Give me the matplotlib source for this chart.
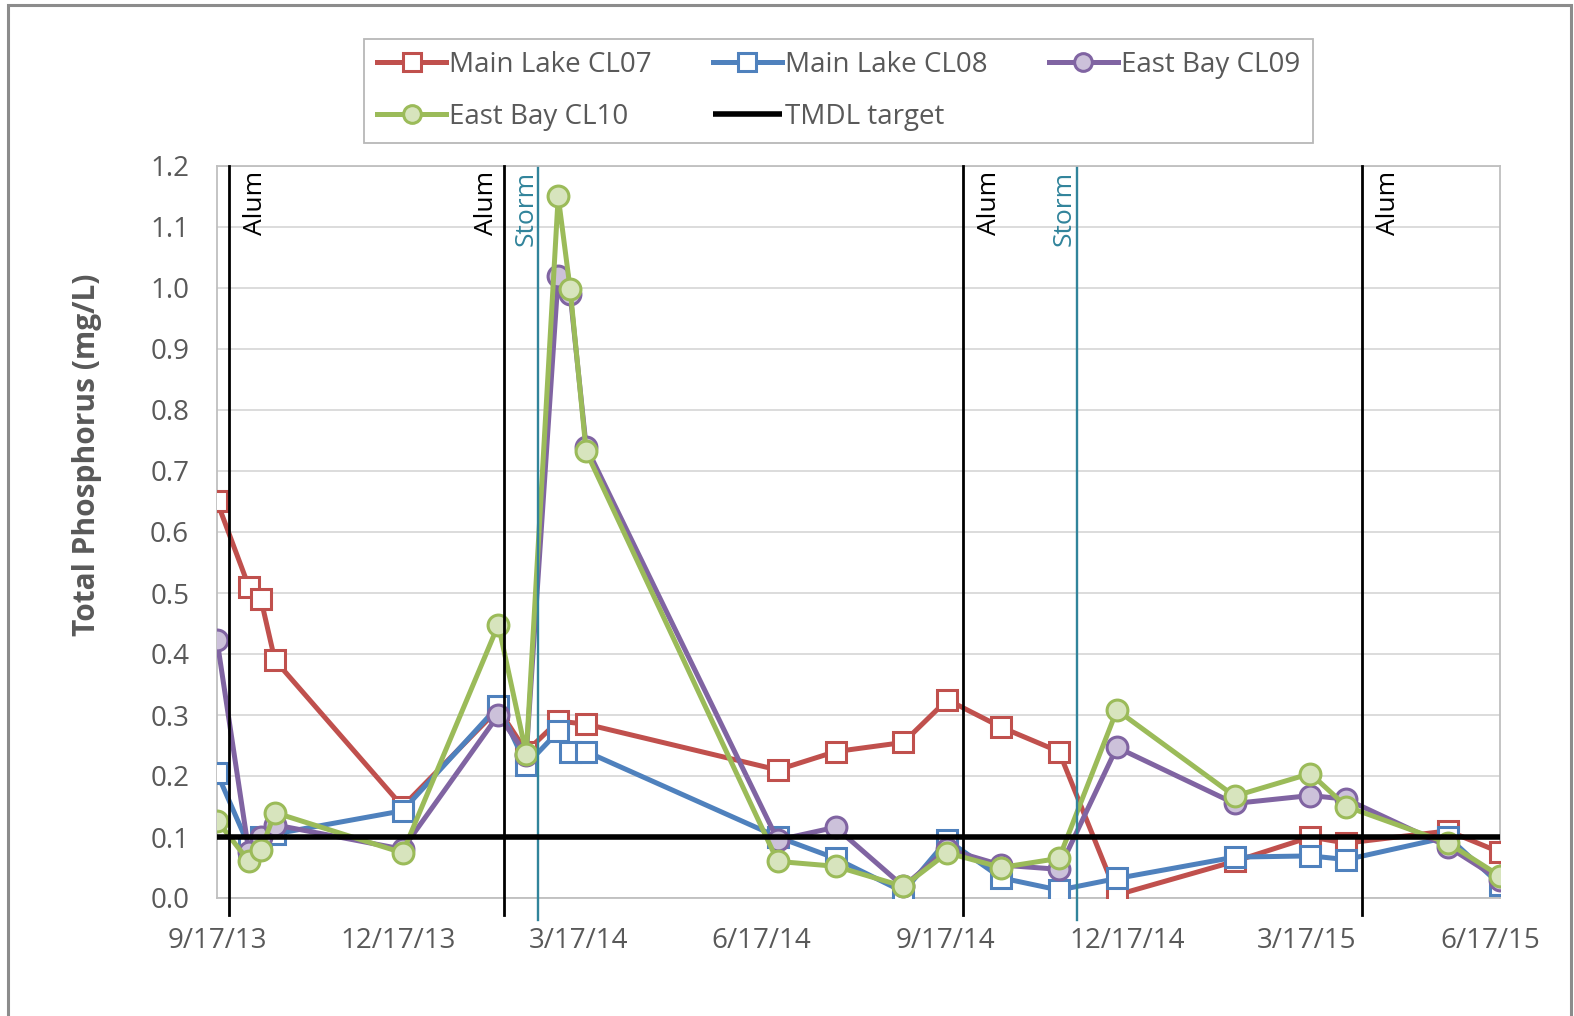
import matplotlib
matplotlib.use("Agg")
import matplotlib.pyplot as plt
import matplotlib.dates as mdates
import matplotlib.patches as mpatches
import matplotlib.transforms as mtrans
import pandas as pd

# ---------------- data ----------------
dates_cl07 = ["2013-09-17", "2013-10-03", "2013-10-09", "2013-10-16", "2013-12-19",
              "2014-02-05", "2014-02-19", "2014-03-07", "2014-03-21", "2014-06-25",
              "2014-07-24", "2014-08-27", "2014-09-18", "2014-10-15", "2014-11-13",
              "2014-12-12", "2015-02-09", "2015-03-19", "2015-04-06", "2015-05-27",
              "2015-06-22"]
cl07 = [0.65, 0.51, 0.49, 0.39, 0.15, 0.31, 0.24, 0.29, 0.285, 0.21,
        0.24, 0.255, 0.325, 0.28, 0.24, 0.005, 0.06, 0.10, 0.09, 0.11, 0.075]

dates_all = ["2013-09-17", "2013-10-03", "2013-10-09", "2013-10-16", "2013-12-19",
             "2014-02-05", "2014-02-19", "2014-03-07", "2014-03-13", "2014-03-21",
             "2014-06-25", "2014-07-24", "2014-08-27", "2014-09-18", "2014-10-15",
             "2014-11-13", "2014-12-12", "2015-02-09", "2015-03-19", "2015-04-06",
             "2015-05-27", "2015-06-22"]
cl08 = [0.205, 0.085, 0.10, 0.105, 0.143, 0.315, 0.218, 0.273, 0.24, 0.24,
        0.10, 0.065, 0.01, 0.095, 0.033, 0.013, 0.032, 0.067, 0.069, 0.063,
        0.10, 0.022]
cl09 = [0.423, 0.075, 0.10, 0.12, 0.08, 0.30, 0.235, 1.02, 0.99, 0.74,
        0.095, 0.116, 0.019, 0.08, 0.054, 0.047, 0.247, 0.155, 0.168, 0.162,
        0.084, 0.03]
cl10 = [0.127, 0.06, 0.078, 0.14, 0.074, 0.448, 0.236, 1.15, 0.998, 0.732,
        0.06, 0.052, 0.019, 0.074, 0.05, 0.065, 0.308, 0.167, 0.204, 0.15,
        0.09, 0.036]

tmdl_target = 0.1
alum_dates = ["2013-09-23", "2014-02-08", "2014-09-26", "2015-04-14"]
storm_dates = ["2014-02-25", "2014-11-22"]
x_start, x_end = "2013-09-17", "2015-06-22"
tick_dates = ["2013-09-17", "2013-12-17", "2014-03-17", "2014-06-17",
              "2014-09-17", "2014-12-17", "2015-03-17", "2015-06-17"]
tick_labels = ["9/17/13", "12/17/13", "3/17/14", "6/17/14",
               "9/17/14", "12/17/14", "3/17/15", "6/17/15"]
y_ticks = [0.0, 0.1, 0.2, 0.3, 0.4, 0.5, 0.6, 0.7, 0.8, 0.9, 1.0, 1.1, 1.2]

# ---------------- style ----------------
plt.rcParams['font.family'] = ['Open Sans', 'DejaVu Sans']
TXT = "#595959"
RED, BLUE, PURPLE, GREEN = "#C0504D", "#4F81BD", "#8064A2", "#9BBB59"
TEAL = "#31849B"

W, H = 1574, 1016
fig = plt.figure(figsize=(W / 100, H / 100), dpi=100)
fig.patch.set_facecolor("white")
ax = fig.add_axes([217 / W, 1 - 898 / H, (1500 - 217) / W, (898 - 166) / H])

# outer chart border
fig.add_artist(mpatches.Rectangle((8 / W, -0.05), (1571 - 8) / W, 1.05 - 5 / H,
                                  transform=fig.transFigure, fill=False,
                                  edgecolor="#8C8C8C", linewidth=2.2))

d07 = pd.to_datetime(dates_cl07)
dall = pd.to_datetime(dates_all)

lw = 3.6
ms = 15
mew = 2.2
h07, = ax.plot(d07, cl07, color=RED, lw=lw, marker='s', ms=ms, mfc='white',
               mec=RED, mew=mew, label="Main Lake CL07", zorder=3)
h08, = ax.plot(dall, cl08, color=BLUE, lw=lw, marker='s', ms=ms, mfc='white',
               mec=BLUE, mew=mew, label="Main Lake CL08", zorder=3.1)
h09, = ax.plot(dall, cl09, color=PURPLE, lw=lw, marker='o', ms=ms, mfc='#CCC1DA',
               mec=PURPLE, mew=mew, label="East Bay CL09", zorder=3.2)
h10, = ax.plot(dall, cl10, color=GREEN, lw=lw, marker='o', ms=ms, mfc='#D7E4BD',
               mec=GREEN, mew=mew, label="East Bay CL10", zorder=3.3)

xs, xe = pd.Timestamp(x_start), pd.Timestamp(x_end)
ht, = ax.plot([xs, xe], [tmdl_target, tmdl_target], color='black', lw=4.0,
              label="TMDL target", zorder=4, solid_capstyle='butt')

# event lines
for i, d in enumerate(alum_dates):
    dt = pd.Timestamp(d)
    ax.plot([dt, dt], [-0.028, 1.2], color='black', lw=2.0, clip_on=False, zorder=3.5)
    off = -13 if i == 1 else 19
    tr = mtrans.offset_copy(ax.get_xaxis_transform(), fig=fig, x=off, y=0, units='points')
    ax.text(dt, 0.993, "Alum", rotation=90, va='top', ha='center', fontsize=19,
            color='black', transform=tr)
for d in storm_dates:
    dt = pd.Timestamp(d)
    ax.plot([dt, dt], [-0.036, 1.196], color=TEAL, lw=1.7, clip_on=False, zorder=3.5)
    tr = mtrans.offset_copy(ax.get_xaxis_transform(), fig=fig, x=-9, y=0, units='points')
    ax.text(dt, 0.993, "Storm", rotation=90, va='top', ha='center', fontsize=19,
            color=TEAL, transform=tr)

# axes formatting
ax.set_xlim(xs, xe)
ax.set_ylim(0, 1.2)
ax.set_yticks(y_ticks)
ax.set_yticklabels([f"{v:.1f}" for v in y_ticks])
ax.set_xticks(pd.to_datetime(tick_dates))
ax.set_xticklabels(tick_labels)
ax.tick_params(axis='both', length=0, labelsize=20, colors=TXT)
ax.tick_params(axis='y', pad=20)
ax.tick_params(axis='x', pad=21)
ax.grid(axis='y', color='#D9D9D9', lw=1.3)
ax.set_axisbelow(True)
for s in ax.spines.values():
    s.set_color('#BFBFBF')
    s.set_linewidth(1.3)
ax.set_ylabel("Total Phosphorus (mg/L)", fontsize=21.5, fontweight='bold',
              color=TXT, va='center', ha='center')
ax.yaxis.set_label_coords((87.5 - 217) / 1283, (898 - 455) / 732)

# legend (row-wise ordering with 3 columns)
handles = [h07, h10, h08, ht, h09]
labels = [h.get_label() for h in handles]
leg = fig.legend(handles, labels, ncol=3, loc='center',
                 bbox_to_anchor=(838.5 / W, 1 - 91 / H), fontsize=20,
                 frameon=True, fancybox=False, edgecolor='#A6A6A6',
                 handlelength=2.5, handletextpad=0.1, columnspacing=2.2,
                 labelspacing=0.85, borderpad=0.45, borderaxespad=0, numpoints=1,
                 markerscale=0.85)
leg.get_frame().set_linewidth(1.3)
for t in leg.get_texts():
    t.set_color(TXT)

fig.savefig("out.png", dpi=100, facecolor="white")
